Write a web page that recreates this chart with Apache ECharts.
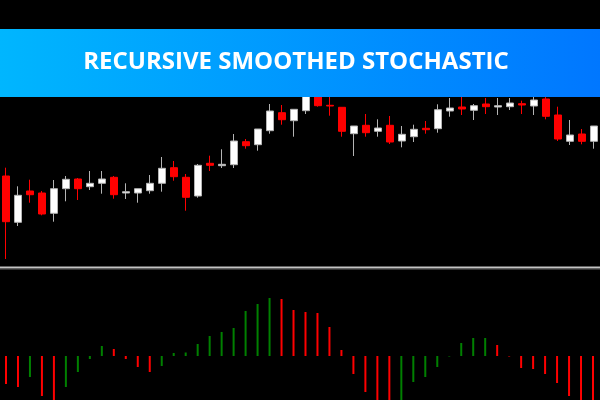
<!DOCTYPE html>
<html>
<head>
<meta charset="utf-8">
<script src="https://cdn.jsdelivr.net/npm/echarts@6/dist/echarts.min.js"></script>
<style>
html,body{margin:0;padding:0;background:#000;}
#chart{width:600px;height:400px;}
</style>
</head>
<body>
<div id="chart"></div>
<script>
// Bar index labels
const categories = Array.from({length: 50}, (_, i) => String(i + 1));

// Candles: [open, close, low, high]
const opens  = [94,47.7,79,77,56.7,81.3,91,83.3,86.7,92.7,77,77,79.3,86.7,102.3,92.7,74,106.7,104.3,105.3,128.3,125.3,139.3,157.3,149.3,159.3,178,164.7,162.7,136.3,144.7,138.7,144.7,129,133.3,141.7,141.3,159,163,159.7,166,163,163.3,166.3,164,171,155,128.7,136,128.7];
const closes = [48.3,74.7,75.3,56,81.3,90.7,81.3,86.7,91,75.3,78.3,81.3,86.7,101.7,93.3,72.7,104.7,104.7,105.7,129,124.3,141,159,150.3,160.7,180,164.3,164,138.7,144,137.3,142,128,135.7,140.7,140.3,160.3,162,161,164.3,163.3,164.3,167,165,170,153.7,131,135,128.7,144];
const lows   = [11,44,67.3,54.7,48.3,68.7,70,80,76.3,71.3,71,67.3,76.3,78.3,89.3,59.3,72.3,99,102,102,121.3,119.3,136.3,145.3,133.3,156,163.3,154.3,133.3,114,133.3,133.3,126,122.7,128,136.3,137.3,153.3,155,150,156,155,160,156,155,150.7,129,125,125.7,121.3];
const highs  = [102.3,83.7,90.3,79,90,94,92,99,99,94,86.7,81.3,95,113,109,96,106,114.3,120.7,136,131,141,166,165,160.7,186,184,178,162.7,144,156,150.7,154,144,145.3,149,165.7,172,176,166,172,172,172,169.3,176,175,163.3,150,141,144];

// Oscillator histogram values
const hist = [-28,-31,-21,-40,-48,-31,-16,-3,10,7,-3,-11,-16,-10,3,3.5,12,20,24,28,45,52,58,57,46,44,43,29,6,-18,-36,-46,-52,-49,-26,-21,-11,-0.5,13,18,18,11,-0.5,-12,-13,-18,-27,-40,-48,-52];

const title = 'RECURSIVE SMOOTHED STOCHASTIC';

const candleData = opens.map((o, i) => [o, closes[i], lows[i], highs[i]]);

const chart = echarts.init(document.getElementById('chart'), null, {renderer: 'canvas'});
chart.setOption({
  backgroundColor: '#000',
  animation: false,
  grid: [
    {left: 0, right: 0, top: 0, height: 266},
    {left: -1, right: 1, top: 270, height: 130}
  ],
  xAxis: [
    {type: 'category', data: categories, gridIndex: 0, boundaryGap: true, show: false},
    {type: 'category', data: categories, gridIndex: 1, boundaryGap: true, show: false}
  ],
  yAxis: [
    {type: 'value', gridIndex: 0, min: 4, max: 270, show: false, splitLine: {show: false}},
    {type: 'value', gridIndex: 1, min: -44, max: 86, show: false, splitLine: {show: false}}
  ],
  series: [
    {
      type: 'candlestick',
      xAxisIndex: 0, yAxisIndex: 0,
      data: candleData,
      barWidth: 8,
      itemStyle: {
        color: '#ffffff', color0: '#ff0000',
        borderColor: '#b4b4b4', borderColor0: '#ff0000', borderWidth: 1
      }
    },
    {
      type: 'bar',
      xAxisIndex: 1, yAxisIndex: 1,
      data: hist,
      barWidth: 2,
      clip: true,
      itemStyle: {
        color: function (p) {
          const i = p.dataIndex;
          if (i === 0) return '#ff0000';
          return hist[i] >= hist[i - 1] ? '#008000' : '#ff0000';
        }
      }
    }
  ],
  graphic: [
    {
      type: 'rect', z: 100,
      shape: {x: 0, y: 29, width: 600, height: 68},
      style: {
        fill: new echarts.graphic.LinearGradient(0, 0, 1, 0, [
          {offset: 0, color: '#00b6fe'},
          {offset: 1, color: '#0077ff'}
        ])
      }
    },
    {
      type: 'text', z: 101,
      x: 296, y: 62,
      style: {
        text: title,
        fill: '#ffffff',
        font: 'bold 24px "Open Sans", sans-serif',
        textAlign: 'center', textVerticalAlign: 'middle'
      }
    },
    {
      type: 'line', z: 50,
      shape: {x1: 0, y1: 267.5, x2: 600, y2: 267.5},
      style: {stroke: '#c4c4c4', lineWidth: 2}
    },
    {
      type: 'line', z: 50,
      shape: {x1: 0, y1: 269.5, x2: 600, y2: 269.5},
      style: {stroke: '#333333', lineWidth: 1}
    }
  ]
});
</script>
</body>
</html>
